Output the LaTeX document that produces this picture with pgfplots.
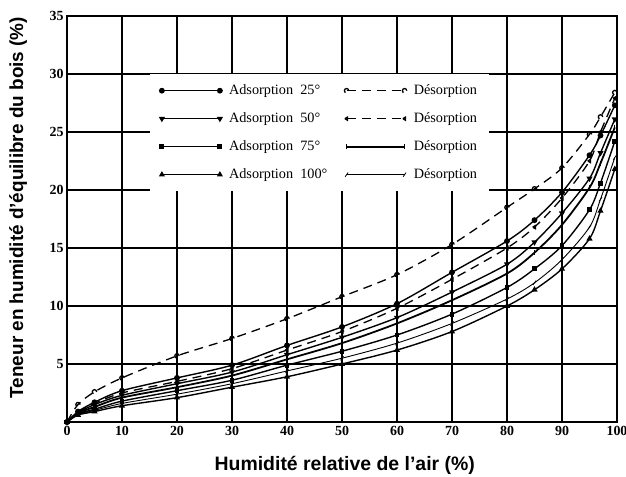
\documentclass[border=0pt]{standalone}
\usepackage{fontspec}
\setmainfont{Liberation Serif}
\setsansfont{Liberation Sans}
\usepackage{pgfplots}
\usepackage{pgfplotstable}
\pgfplotsset{compat=1.18}

% humidite relative (%) -> teneur en eau (%) ; a = adsorption, d = desorption
\pgfplotstableread{
X    a25   d25   a50   d50   a75   d75   a100  d100
0    0     0     0     0     0     0     0     0
2    0.9   1.5   0.8   0.85  0.7   0.75  0.6   0.65
5    1.7   2.6   1.5   1.6   1.1   1.3   0.9   1.0
10   2.7   3.8   2.3   2.5   1.8   2.1   1.4   1.6
20   3.8   5.7   3.3   3.5   2.7   3.0   2.1   2.4
30   4.9   7.2   4.3   4.6   3.6   4.0   3.0   3.3
40   6.6   8.9   5.8   6.2   4.9   5.4   3.9   4.4
50   8.2   10.8  7.3   7.8   6.1   6.8   5.0   5.5
60   10.2  12.7  9.0   9.8   7.5   8.5   6.2   6.8
70   12.9  15.3  11.2  12.3  9.3   10.5  7.8   8.5
80   15.6  18.5  13.6  15.0  11.6  12.8  10.0  10.6
85   17.4  20.1  15.5  16.8  13.2  14.6  11.4  12.0
90   19.8  21.9  18.0  19.3  15.2  17.0  13.2  14.0
95   23.0  24.8  21.0  22.5  18.3  20.2  15.8  16.8
97   24.7  26.3  23.2  25.0  20.6  22.3  18.2  19.2
99.6 27.3  28.4  26.1  27.9  24.2  25.4  21.8  22.8
}\isotherms

\begin{document}
\begin{tikzpicture}
\begin{axis}[
  scale only axis, width=550bp, height=406bp, at={(0,0)}, anchor=south west,
  xmin=0, xmax=100, ymin=0, ymax=35,
  xtick={0,10,...,100}, ytick={5,10,...,35},
  grid=major, grid style={black, line width=1.4pt},
  axis line style={line width=1.8pt},
  major tick length=0pt,
  /pgf/number format/assume math mode=true,
  tick label style={font=\fontsize{14}{16}\selectfont\bfseries},
  xticklabel style={yshift=-1bp},
  xlabel={Humidité relative de l’air (\%)},
  ylabel={Teneur en humidité d’équilibre du bois (\%)},
  label style={font=\sffamily\bfseries\fontsize{19.5}{22}\selectfont},
  xlabel style={at={(axis description cs:0.505,-0.108)}, anchor=center},
  ylabel style={at={(axis description cs:-0.089,0.528)}, anchor=center,
    font=\sffamily\bfseries\fontsize{19}{22}\selectfont},
  every axis plot/.append style={smooth, black, mark size=2.2pt, mark options={solid}},
  legend columns=2,
  legend cell align=left,
  legend image code/.code={\draw[#1] plot coordinates {(0bp,0bp) (58bp,0bp)};},
  legend style={at={(axis cs:15,30)}, anchor=north west, fill=white, draw=none,
    inner xsep=10bp, inner ysep=8bp, font=\fontsize{14.3}{16}\selectfont,
    row sep=11bp, nodes={inner sep=2bp, text height=10bp, text depth=3bp},
    /tikz/every odd column/.append style={column sep=5bp},
    /tikz/every even column/.append style={column sep=15bp}},
]
\addplot[line width=1.4pt, mark=*] table[y=a25] {\isotherms};
\addlegendentry{Adsorption\enspace 25°}
\addplot[line width=1.3pt, dash pattern=on 9bp off 6bp, mark=o, mark options={fill=white}] table[y=d25] {\isotherms};
\addlegendentry{Désorption}
\addplot[line width=1.4pt, mark=triangle*, mark options={rotate=180}] table[y=a50] {\isotherms};
\addlegendentry{Adsorption\enspace 50°}
\addplot[line width=1.3pt, dash pattern=on 9bp off 6bp, mark=triangle, mark options={rotate=90, fill=white, mark size=1.8pt}] table[y=d50] {\isotherms};
\addlegendentry{Désorption}
\addplot[line width=1.4pt, mark=square*, mark options={mark size=1.8pt}] table[y=a75] {\isotherms};
\addlegendentry{Adsorption\enspace 75°}
\addplot[line width=1.8pt, mark=|, mark options={mark size=2.6pt, line width=1pt}] table[y=d75] {\isotherms};
\addlegendentry{Désorption}
\addplot[line width=1.4pt, mark=triangle*] table[y=a100] {\isotherms};
\addlegendentry{Adsorption\enspace 100°}
\addplot[line width=0.9pt, mark=|, mark options={rotate=-35, mark size=2.6pt, line width=0.8pt}] table[y=d100] {\isotherms};
\addlegendentry{Désorption}
\end{axis}
\pgfresetboundingbox
\path (-67bp,-55bp) rectangle (559bp,422bp);
\end{tikzpicture}
\end{document}
